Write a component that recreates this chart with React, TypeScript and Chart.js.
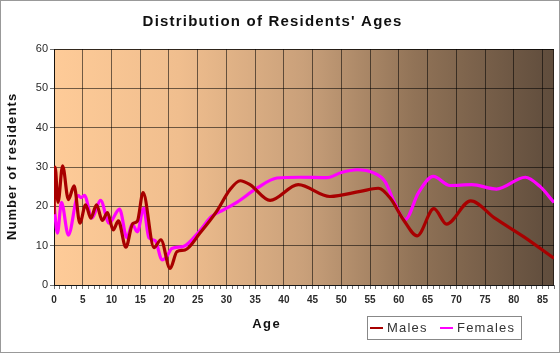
import React, { useEffect, useRef } from 'react';
import { Chart, registerables } from 'chart.js';

Chart.register(...registerables);

const chartTitle = "Distribution of Residents' Ages";
const xAxisTitle = 'Age';
const yAxisTitle = 'Number of residents';
const seriesNames = ['Males', 'Females'];
const seriesColors = ['#A80000', '#FF00FF'];

const xMin = 0;
const xMax = 87;
const xLabelStep = 5;
const yMin = 0;
const yMax = 60;
const yStep = 10;

const maleAges = [0, 0.2, 0.7, 1.5, 2.5, 3.5, 4.5, 5.5, 6.4, 7.4, 8.4, 9.3, 10.3, 11.2, 12.5, 13.7, 14.5, 15.5, 17.4, 18.6, 20.2, 21.4, 22.8, 25.4, 28.3, 30.6, 32.4, 34.1, 37.6, 42.5, 48, 53.3, 56.4, 58.5, 60.8, 63.2, 66.1, 68.3, 72.5, 76.7, 81.7, 87];
const maleValues = [18, 30, 21, 30.3, 21.7, 25.2, 15.7, 20.4, 17, 20.4, 16.4, 18.4, 14, 16.3, 9.6, 15.6, 16.2, 23.5, 9.5, 11.5, 4.2, 8.5, 8.9, 13.2, 18.7, 24.2, 26.5, 25.5, 21.5, 25.5, 22.5, 23.8, 24.6, 22.1, 16.6, 12.5, 19.4, 15.5, 21.4, 17, 12.3, 6.8];

const femaleAges = [0, 0.6, 1.3, 2.5, 4.2, 4.7, 5.3, 6.6, 8.1, 9.6, 11.4, 12.7, 13.6, 14.5, 15.6, 16.5, 17.6, 18.8, 19.6, 20.5, 22.5, 25.1, 27.4, 29.5, 31.8, 35.3, 38.8, 42.8, 47.5, 50, 52.7, 55.6, 57.6, 59.3, 61.1, 63.4, 66, 68.9, 72.7, 77, 82, 84.6, 87];
const femaleValues = [20.5, 13.2, 21, 12.7, 22.7, 22.2, 22.8, 17, 21.5, 15.7, 19.3, 12, 15.5, 13.5, 19.5, 12, 11.3, 6.4, 7.2, 9.3, 9.8, 13.3, 17.4, 19.1, 21, 24.6, 27.2, 27.4, 27.3, 28.6, 29.3, 28.5, 26.3, 20.8, 16.6, 23.4, 27.6, 25.3, 25.5, 24.4, 27.4, 25, 21];

const FONT = "Arial, 'Liberation Sans', sans-serif";
const TEXT_COLOR = '#2a2a2a';
const GRID_COLOR = 'rgba(0,0,0,0.55)';

function toPoints(xs: number[], ys: number[]) {
  return xs.map((x, i) => ({ x, y: ys[i] }));
}

function drawSpaced(ctx: CanvasRenderingContext2D, text: string, cx: number, cy: number, font: string, spacing: number, color: string) {
  ctx.save();
  ctx.font = font;
  ctx.fillStyle = color;
  ctx.textBaseline = 'middle';
  ctx.textAlign = 'left';
  const w0 = ctx.measureText(text).width;
  (ctx as any).letterSpacing = spacing + 'px';
  const total = w0 + (text.length - 1) * spacing;
  ctx.fillText(text, cx - total / 2, cy);
  ctx.restore();
}

const decorPlugin = {
  id: 'decor',
  beforeDraw(chart: any) {
    const { ctx, chartArea } = chart;
    const { left, top, right, bottom } = chartArea;
    ctx.save();
    ctx.fillStyle = '#ffffff';
    ctx.fillRect(0, 0, chart.width, chart.height);
    const g = ctx.createLinearGradient(left, 0, right, 0);
    g.addColorStop(0, '#FECB98');
    g.addColorStop(0.25, '#F0BE8E');
    g.addColorStop(0.5, '#C9A07A');
    g.addColorStop(0.72, '#917357');
    g.addColorStop(1, '#5F4C3C');
    ctx.fillStyle = g;
    ctx.fillRect(left, top, right - left, bottom - top);
    ctx.restore();
  },
  beforeDatasetsDraw(chart: any) {
    const { ctx, chartArea } = chart;
    const { left, top, right, bottom } = chartArea;
    ctx.save();
    ctx.strokeStyle = GRID_COLOR;
    ctx.lineWidth = 1;
    ctx.strokeRect(Math.round(left) + 0.5, Math.round(top) + 0.5, Math.round(right - left) - 1, Math.round(bottom - top));
    ctx.restore();
  },
  afterDraw(chart: any) {
    const { ctx, chartArea } = chart;
    drawSpaced(ctx, chartTitle, 272, 22, `bold 15px ${FONT}`, 1.2, '#111');
    drawSpaced(ctx, xAxisTitle, 266, 324, `bold 13px ${FONT}`, 1.5, '#111');
    ctx.save();
    ctx.translate(12, (chartArea.top + chartArea.bottom) / 2);
    ctx.rotate(-Math.PI / 2);
    drawSpaced(ctx, yAxisTitle, 0, 0, `bold 13px ${FONT}`, 1.1, '#111');
    ctx.restore();
    ctx.save();
    ctx.strokeStyle = '#888';
    ctx.lineWidth = 1;
    ctx.strokeRect(367.5, 316.5, 154, 23);
    const items = [
      { x: 370, tx: 387 },
      { x: 440, tx: 457 },
    ];
    items.forEach((it, i) => {
      ctx.strokeStyle = seriesColors[i];
      ctx.lineWidth = 2;
      ctx.beginPath();
      ctx.moveTo(it.x, 328);
      ctx.lineTo(it.x + 13, 328);
      ctx.stroke();
      ctx.font = `13px ${FONT}`;
      ctx.fillStyle = '#333';
      ctx.textBaseline = 'middle';
      ctx.textAlign = 'left';
      (ctx as any).letterSpacing = '1.2px';
      ctx.fillText(seriesNames[i], it.tx, 328);
      (ctx as any).letterSpacing = '0px';
    });
    ctx.restore();
    ctx.save();
    ctx.strokeStyle = '#999';
    ctx.lineWidth = 1;
    ctx.strokeRect(0.5, 0.5, chart.width - 1, chart.height - 1);
    ctx.restore();
  },
};

export default function App() {
  const canvasRef = useRef<HTMLCanvasElement | null>(null);

  useEffect(() => {
    document.body.style.margin = '0';
    const canvas = canvasRef.current;
    if (!canvas) return;
    const chart = new Chart(canvas, {
      type: 'line',
      data: {
        datasets: [
          {
            label: seriesNames[0],
            data: toPoints(maleAges, maleValues),
            borderColor: seriesColors[0],
            backgroundColor: seriesColors[0],
            borderWidth: 3.2,
            pointRadius: 0,
            cubicInterpolationMode: 'monotone',
            fill: false,
          },
          {
            label: seriesNames[1],
            data: toPoints(femaleAges, femaleValues),
            borderColor: seriesColors[1],
            backgroundColor: seriesColors[1],
            borderWidth: 3.2,
            pointRadius: 0,
            cubicInterpolationMode: 'monotone',
            fill: false,
          },
        ],
      },
      options: {
        animation: false,
        responsive: true,
        maintainAspectRatio: false,
        layout: { padding: { left: 0, top: 49, right: 6, bottom: 0 } },
        plugins: {
          legend: { display: false },
          title: { display: false },
          tooltip: { enabled: false },
        },
        scales: {
          x: {
            type: 'linear',
            min: xMin,
            max: xMax,
            afterFit: (scale: any) => {
              scale.height = 68;
            },
            ticks: {
              stepSize: 1,
              autoSkip: false,
              maxRotation: 0,
              padding: 5,
              color: TEXT_COLOR,
              font: { family: FONT, size: 10, weight: 'bold' },
              callback: (v: any) => (Number(v) % xLabelStep === 0 ? String(v) : ''),
            },
            grid: {
              color: (c: any) => (c.tick && c.tick.value % xLabelStep === 0 ? GRID_COLOR : 'rgba(0,0,0,0)'),
              tickColor: GRID_COLOR,
              tickLength: 4,
              lineWidth: 1,
            },
            border: { display: true, color: GRID_COLOR },
          },
          y: {
            min: yMin,
            max: yMax,
            afterFit: (scale: any) => {
              scale.width = 54;
            },
            ticks: {
              stepSize: yStep,
              padding: 2,
              color: TEXT_COLOR,
              font: { family: FONT, size: 11 },
            },
            grid: {
              color: GRID_COLOR,
              tickColor: GRID_COLOR,
              tickLength: 4,
              lineWidth: 1,
            },
            border: { display: true, color: GRID_COLOR },
          },
        },
      } as any,
      plugins: [decorPlugin],
    });
    return () => chart.destroy();
  }, []);

  return (
    <div style={{ position: 'relative', width: 560, height: 353 }}>
      <canvas ref={canvasRef} />
    </div>
  );
}
